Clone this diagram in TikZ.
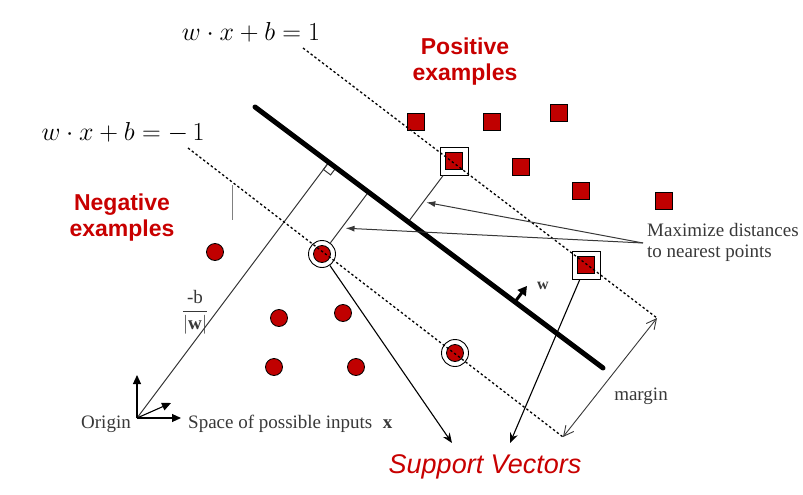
\RequirePackage{fix-cm}
\documentclass[tikz,border=0pt]{standalone}
\usepackage{amsmath}
\usepackage{fontspec}
\setmainfont{Liberation Serif}
\newfontfamily\arialfont{Liberation Sans}
\usepackage{tikz}
\usetikzlibrary{arrows.meta,calc}
\definecolor{svmred}{RGB}{192,0,0}
\definecolor{labelred}{RGB}{200,0,0}
\definecolor{inkgray}{gray}{0.22}

\begin{document}
\begin{tikzpicture}[
  x=1pt, y=-1pt,
  posbox/.style={draw, fill=svmred, minimum size=17pt, inner sep=0pt, line width=0.8pt},
  negdot/.style={circle, draw, fill=svmred, minimum size=17pt, inner sep=0pt, line width=0.8pt},
  svframe/.style={draw, line width=0.9pt, minimum size=28pt, inner sep=0pt},
  svring/.style={circle, draw, line width=0.9pt, minimum size=27pt, inner sep=0pt},
  marginline/.style={dash pattern=on 2.4pt off 2.4pt, line width=1.3pt},
  hyperplane/.style={line width=5pt, line cap=round},
  thinline/.style={line width=1pt, draw=inkgray},
  arr/.style={-{Latex[length=9pt,width=6pt]}, line width=1pt, draw=inkgray},
  svarr/.style={-{Stealth[length=10pt,width=8pt]}, line width=1.1pt},
  marginarr/.style={{Straight Barb[length=10pt,width=10pt]}-{Straight Barb[length=10pt,width=10pt]}, line width=0.9pt, draw=inkgray},
  axisarr/.style={-{Triangle[length=9pt,width=8pt]}, line width=1.1pt},
  warrow/.style={-{Triangle[length=9pt,width=10pt]}, line width=3pt},
  lbl/.style={font=\fontsize{19}{21}\selectfont, text=inkgray, inner sep=0pt},
  redlbl/.style={font=\arialfont\bfseries\fontsize{23}{26}\selectfont, text=labelred, align=center, inner sep=0pt},
  eqn/.style={font=\fontsize{26}{30}\selectfont, inner sep=0pt},
]
  \useasboundingbox (0,0) rectangle (803,495);

  % hyperplane and margins
  \coordinate (hA) at (255,107);
  \coordinate (hB) at (603,368);
  \coordinate (upA) at (303,48);
  \coordinate (upB) at (657,318);
  \coordinate (loA) at (188,148);
  \coordinate (loB) at (563,437);
  \coordinate (origin) at (137,418);

  % positive examples
  \node[posbox] (pos1) at (416,122) {};
  \node[posbox] (pos2) at (492,122) {};
  \node[posbox] (pos3) at (559,113) {};
  \node[posbox] (pos4) at (521,167) {};
  \node[posbox] (pos5) at (581,191) {};
  \node[posbox] (pos6) at (664,201) {};
  \node[svframe] (psv1) at (454,161) {};
  \node[posbox] (psv1in) at (psv1) {};
  \node[svframe] (psv2) at (586,265) {};
  \node[posbox] (psv2in) at (psv2) {};

  % negative examples
  \node[negdot] (neg1) at (215,252) {};
  \node[negdot] (neg2) at (279,318) {};
  \node[negdot] (neg3) at (343,313) {};
  \node[negdot] (neg4) at (274,367) {};
  \node[negdot] (neg5) at (356,367) {};
  \node[svring] (nsv1) at (322,254) {};
  \node[negdot] (nsv1in) at (nsv1) {};
  \node[svring] (nsv2) at (455,353) {};
  \node[negdot] (nsv2in) at (nsv2) {};

  % perpendiculars onto the hyperplane
  \coordinate (foot0) at ($(hA)!(origin)!(hB)$);
  \coordinate (foot1) at ($(hA)!(psv1)!(hB)$);
  \coordinate (foot2) at ($(hA)!(nsv1)!(hB)$);
  \coordinate (ra1) at ($(foot0)!9pt!(origin)$);
  \coordinate (ra2) at ($(foot0)!9pt!(hB)$);
  \draw[thinline, fill=white] (foot0) -- (ra1) -- ($(ra1)+(ra2)-(foot0)$) -- (ra2) -- cycle;
  \draw[thinline] (origin) -- (foot0);
  \draw[thinline] (psv1) -- (foot1);
  \draw[thinline] (nsv1) -- (foot2);

  \draw[marginline] (upA) -- (upB);
  \draw[marginline] (loA) -- (loB);
  \draw[marginarr] (upB) -- (loB);

  \draw[hyperplane] (hA) -- (hB);
  \coordinate (wfoot) at ($(hA)!0.747!(hB)$);
  \draw[warrow] (wfoot) -- ++(12,-16);
  \node[font=\fontsize{16}{18}\selectfont\bfseries, text=inkgray, inner sep=0pt] (wlabel) at (543,286) {w};

  % axes at the origin
  \draw[axisarr] (origin) -- ++(0,-43);
  \draw[axisarr] (origin) -- ++(44,0);
  \draw[axisarr] (origin) -- ++(34,-15);

  % labels
  \node[eqn, anchor=base] (equp) at (251,41) {$w\cdot x+b=1$};
  \node[eqn, anchor=base] (eqlow) at (123,140) {$w\cdot x+b=-\,1$};
  \node[redlbl] (poslabel) at (465,62) {Positive\\examples};
  \node[redlbl] (neglabel) at (122,218) {Negative\\examples};
  \node[lbl, anchor=west, align=left] (maxlabel) at (647,242) {Maximize distances\\to nearest points};
  \node[lbl, anchor=base] (marginlabel) at (641,400) {margin};
  \node[lbl] (fraclabel) at (195,312) {$\dfrac{\text{-b}}{|\textbf{w}|}$};
  \node[lbl, anchor=base east] (originlabel) at (131,428) {Origin};
  \node[lbl, anchor=base west] (spacelabel) at (188,428) {Space of possible inputs\hspace{0.55em}\textbf{x}};
  \node[font=\arialfont\itshape\fontsize{27}{30}\selectfont, text=labelred, anchor=base, inner sep=0pt] (svlabel) at (485,473) {Support Vectors};
  \draw[thinline, draw=gray] (232,185) -- (232,220);

  % arrows to the labels
  \coordinate (maxtail) at (643,243);
  \draw[arr, shorten >=3pt] (maxtail) -- ($(psv1)!0.67!(foot1)$);
  \draw[arr, shorten >=4pt] (maxtail) -- ($(nsv1)!0.42!(foot2)$);
  \coordinate (svtipA) at (452,443);
  \coordinate (svtipB) at (510,443);
  \draw[svarr] (nsv1) -- (svtipA);
  \draw[svarr] (psv2) -- (svtipB);
\end{tikzpicture}
\end{document}
